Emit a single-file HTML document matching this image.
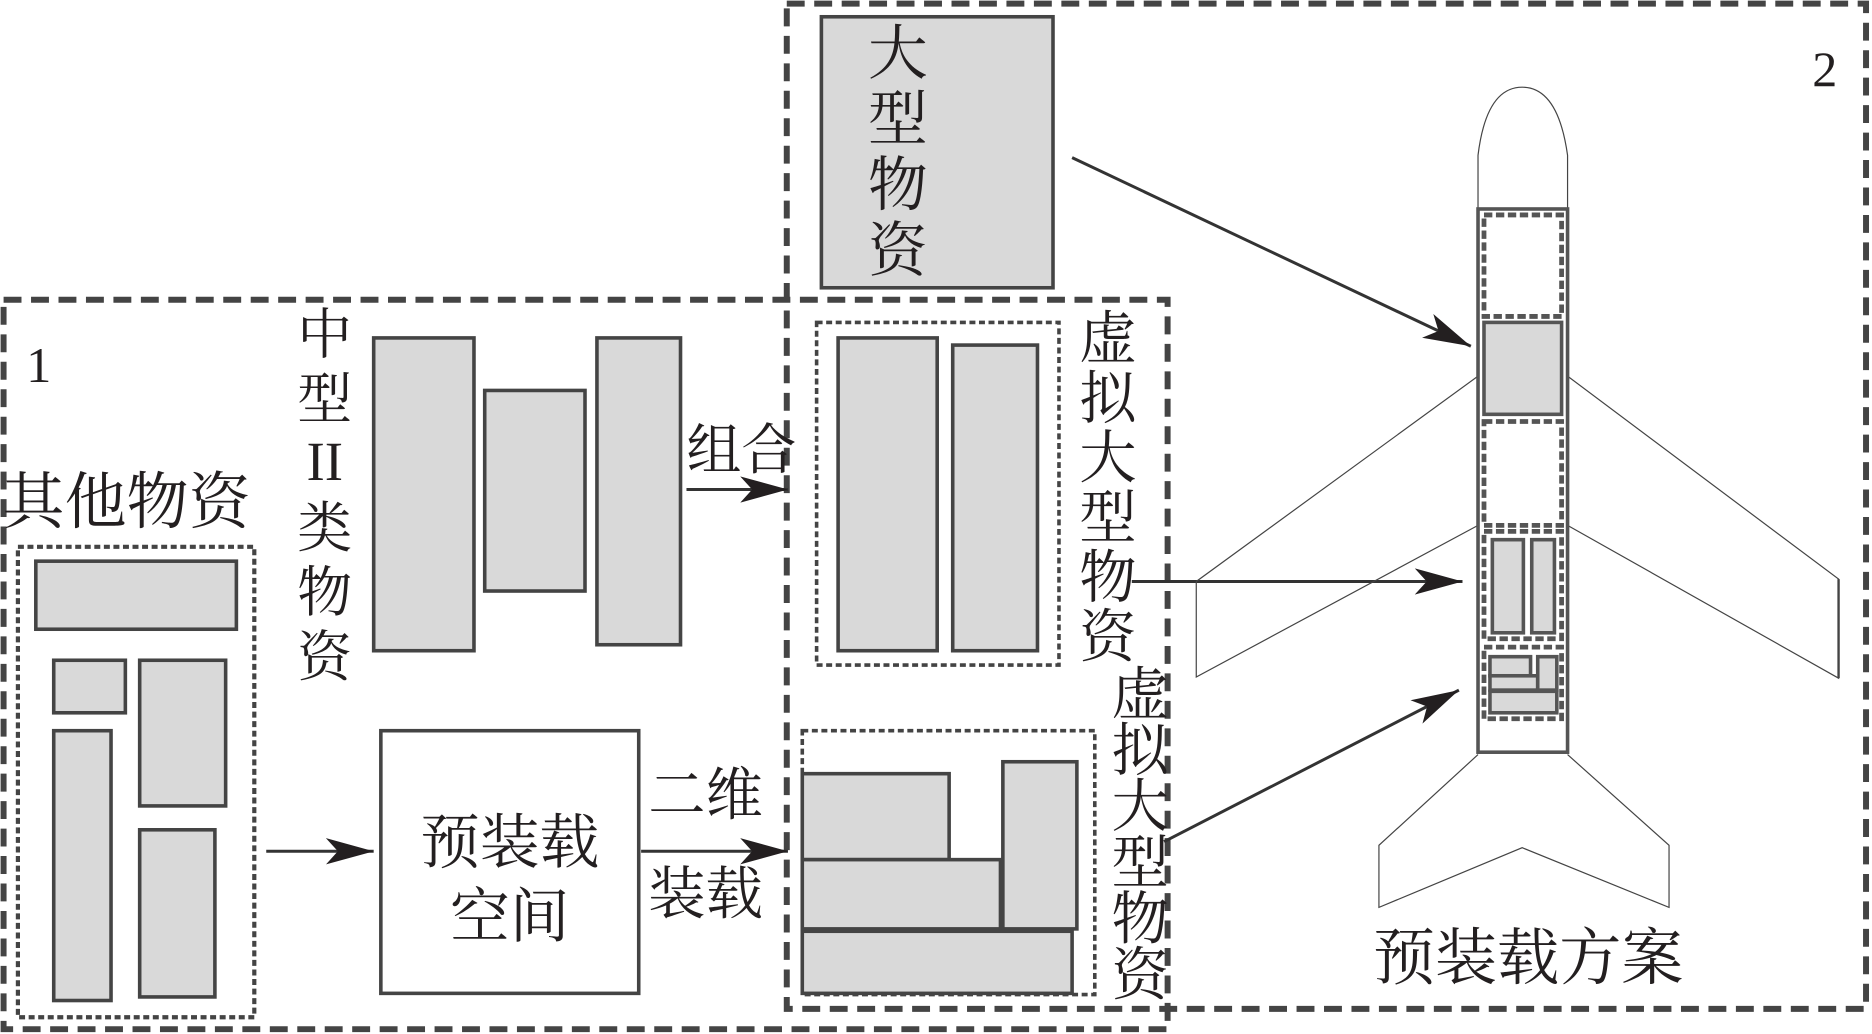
<!DOCTYPE html>
<html><head><meta charset="utf-8"><style>
html,body{margin:0;padding:0;background:#fff}
svg{display:block}
text{font-family:"Liberation Serif","Noto Serif CJK SC","Noto Sans CJK SC",serif;fill:#231f20}
</style></head><body>
<svg width="1872" height="1034" viewBox="0 0 1568 866" xmlns="http://www.w3.org/2000/svg">
<defs>
<marker id="ah2" markerWidth="40" markerHeight="22" refX="40" refY="11" orient="auto" markerUnits="userSpaceOnUse" viewBox="0 0 40 22">
<path d="M0,0 L40,11 L0,22 L10,11 Z" fill="#231f20"/>
</marker>
</defs>
<g fill="none" stroke="#444" stroke-width="5" stroke-dasharray="15,8">
<rect x="3" y="251" width="975" height="611"/>
<rect x="659" y="3" width="904" height="842"/>
</g>
<text x="22" y="320" font-size="42">1</text>
<text x="1518" y="72" font-size="42">2</text>

<rect x="688" y="14" width="194" height="227" fill="#d9d9d9" stroke="#444" stroke-width="3"/>
<g font-size="50" text-anchor="middle">
<text x="752" y="62">大</text><text x="752" y="117">型</text><text x="752" y="172">物</text><text x="752" y="227">资</text>
</g>
<line x1="898" y1="132" x2="1232" y2="290" stroke="#333" stroke-width="2.5" marker-end="url(#ah2)"/>

<g font-size="46" text-anchor="middle">
<text x="272" y="296">中</text><text x="272" y="350">型</text>
<text x="272" y="402" font-family="Liberation Serif,serif">II</text>
<text x="272" y="458">类</text><text x="272" y="512">物</text><text x="272" y="566">资</text>
</g>
<g fill="#d9d9d9" stroke="#444" stroke-width="3">
<rect x="313" y="283" width="84" height="262"/>
<rect x="406" y="327" width="84" height="168"/>
<rect x="500" y="283" width="70" height="257"/>
</g>
<text x="575" y="393" font-size="46">组合</text>
<line x1="575" y1="410" x2="660" y2="410" stroke="#333" stroke-width="2.5" marker-end="url(#ah2)"/>
<rect x="684" y="270" width="203" height="287" fill="none" stroke="#444" stroke-width="3" stroke-dasharray="5,3"/>
<g fill="#d9d9d9" stroke="#444" stroke-width="3">
<rect x="702" y="283" width="83" height="262"/>
<rect x="798" y="289" width="71" height="256"/>
</g>
<g font-size="48" text-anchor="middle">
<text x="928" y="300">虚</text><text x="928" y="350">拟</text><text x="928" y="400">大</text><text x="928" y="450">型</text><text x="928" y="500">物</text><text x="928" y="550">资</text>
<text x="955" y="598">虚</text><text x="955" y="645">拟</text><text x="955" y="692">大</text><text x="955" y="739">型</text><text x="955" y="786">物</text><text x="955" y="833">资</text>
</g>
<line x1="948" y1="487" x2="1225" y2="487" stroke="#333" stroke-width="2.5" marker-end="url(#ah2)"/>

<text x="2" y="438" font-size="52">其他物资</text>
<rect x="15" y="458" width="198" height="394" fill="none" stroke="#444" stroke-width="3.5" stroke-dasharray="5,3"/>
<g fill="#d9d9d9" stroke="#444" stroke-width="3">
<rect x="30" y="470" width="168" height="57"/>
<rect x="45" y="553" width="60" height="44"/>
<rect x="117" y="553" width="72" height="122"/>
<rect x="45" y="612" width="48" height="226"/>
<rect x="117" y="695" width="63" height="140"/>
</g>
<line x1="223" y1="713" x2="313" y2="713" stroke="#333" stroke-width="2.5" marker-end="url(#ah2)"/>
<rect x="319" y="612" width="216" height="220" fill="#fff" stroke="#444" stroke-width="3"/>
<g font-size="50" text-anchor="middle">
<text x="427" y="723">预装载</text><text x="427" y="785">空间</text>
</g>
<text x="543" y="682" font-size="48">二维</text>
<text x="543" y="765" font-size="48">装载</text>
<line x1="537" y1="713" x2="660" y2="713" stroke="#333" stroke-width="2.5" marker-end="url(#ah2)"/>
<rect x="672" y="612" width="245" height="221" fill="none" stroke="#444" stroke-width="3" stroke-dasharray="5,3"/>
<g fill="#d9d9d9" stroke="#444" stroke-width="3">
<rect x="672" y="648" width="123" height="72"/>
<rect x="672" y="720" width="166" height="58"/>
<rect x="840" y="638" width="62" height="140"/>
<rect x="672" y="780" width="226" height="52"/>
</g>
<line x1="975" y1="705" x2="1222" y2="578" stroke="#333" stroke-width="2.5" marker-end="url(#ah2)"/>

<g fill="none" stroke="#444" stroke-width="1">
<path d="M1238,175 L1238,130 Q1245,73 1275,73 Q1305,73 1313,130 L1313,175"/>
<path d="M1238,315 L1002,487 L1002,567 L1238,440"/>
<path d="M1313,315 L1540,485 L1540,568 L1313,440"/>
<path d="M1238,632 L1155,708 L1155,760 L1275,710 L1398,760 L1398,708 L1313,632"/>
</g>
<line x1="1540" y1="485" x2="1540" y2="568" stroke="#444" stroke-width="2"/>
<rect x="1238" y="175" width="75" height="455" fill="#fff" stroke="#555" stroke-width="3"/>
<g fill="none" stroke="#555" stroke-width="4" stroke-dasharray="7,3">
<rect x="1243" y="180" width="65" height="85"/>
<rect x="1243" y="353" width="65" height="87"/>
<rect x="1243" y="445" width="65" height="90"/>
<rect x="1243" y="542" width="65" height="60"/>
</g>
<g fill="#d9d9d9" stroke="#555" stroke-width="3">
<rect x="1243" y="270" width="65" height="77"/>
<rect x="1250" y="452" width="26" height="78"/>
<rect x="1283" y="452" width="19" height="78"/>
<rect x="1248" y="550" width="34" height="16"/>
<rect x="1248" y="566" width="40" height="12"/>
<rect x="1288" y="550" width="16" height="28"/>
<rect x="1248" y="579" width="56" height="18"/>
</g>
<text x="1280" y="820" font-size="52" text-anchor="middle">预装载方案</text>
</svg>
</body></html>
